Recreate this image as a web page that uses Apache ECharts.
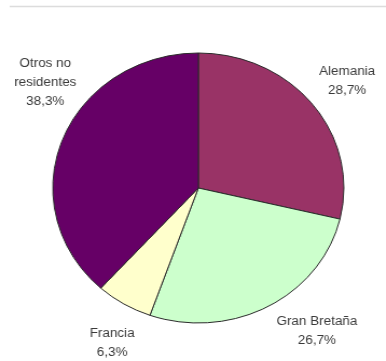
<!DOCTYPE html>
<html>
<head>
<meta charset="utf-8">
<script src="https://cdn.jsdelivr.net/npm/echarts@6/dist/echarts.min.js"></script>
<style>
  html, body { margin: 0; padding: 0; background: #fff; overflow: hidden; }
  #wrap { width: 386px; height: 361px; overflow: hidden; }
  /* the chart is drawn slightly narrower and stretched horizontally */
  #chart { width: 358px; height: 361px; transform: scaleX(1.078); transform-origin: 0 0; }
</style>
</head>
<body>
<div id="wrap"><div id="chart"></div></div>
<script>
const categories = ['Alemania', 'Gran Bretaña', 'Francia', 'Otros no\nresidentes'];
const shares = [28.7, 26.7, 6.3, 38.3];
const sliceColors = ['#993366', '#CCFFCC', '#FFFFCC', '#660066'];
// label anchor points (chart pixels) for each slice's caption
const labelSpots = [[322, 81], [294, 331], [104, 343], [42, 83]];

const chart = echarts.init(document.getElementById('chart'), null, { renderer: 'canvas' });

const data = categories.map((name, i) => ({
  name: name,
  value: shares[i],
  itemStyle: { color: sliceColors[i] }
}));

chart.setOption({
  animation: false,
  graphic: [{
    type: 'line',
    shape: { x1: 9, y1: 6.5, x2: 358, y2: 6.5 },
    style: { stroke: '#dcdcdc', lineWidth: 1.5 }
  }],
  series: [{
    type: 'pie',
    center: [184, 188],
    radius: 135,
    startAngle: 90,
    clockwise: true,
    data: data,
    itemStyle: { borderColor: '#2a2a2a', borderWidth: 1 },
    emphasis: { disabled: true },
    labelLine: { show: false },
    label: {
      show: true,
      position: 'inside',
      overflow: 'none',
      color: '#3a3a3a',
      fontFamily: 'Liberation Sans, Arial, sans-serif',
      fontSize: 12.5,
      lineHeight: 19,
      align: 'center',
      formatter: p => p.name + '\n' + p.value.toFixed(1).replace('.', ',') + '%'
    },
    labelLayout: p => ({
      x: labelSpots[p.dataIndex][0],
      y: labelSpots[p.dataIndex][1],
      align: 'center',
      verticalAlign: 'middle',
      hideOverlap: false
    })
  }]
});
</script>
</body>
</html>
